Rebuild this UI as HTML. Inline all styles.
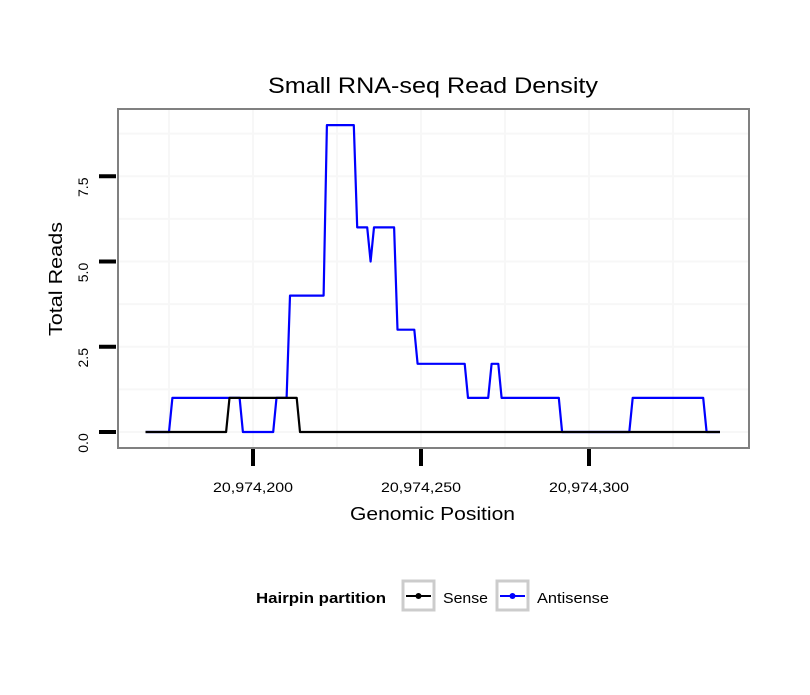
<!DOCTYPE html>
<html><head><meta charset="utf-8"><style>
body{margin:0;background:#fff;}
svg text{font-family:"Liberation Sans",sans-serif;}
</style></head><body>
<svg id="chart" width="810" height="690" xmlns="http://www.w3.org/2000/svg">
<rect x="0" y="0" width="810" height="690" fill="#fff"/>
<text x="268" y="93" font-size="22" textLength="330" lengthAdjust="spacingAndGlyphs" fill="#000">Small RNA-seq Read Density</text>
<g id="grid"></g>
<g id="lines"></g>
<rect x="118" y="109" width="631" height="339" fill="none" stroke="#808080" stroke-width="2"/>
<g id="axes"></g>
<text x="350" y="520" font-size="18" textLength="165" lengthAdjust="spacingAndGlyphs">Genomic Position</text>
<text transform="translate(62,336) rotate(-90)" font-size="18" textLength="114" lengthAdjust="spacingAndGlyphs">Total Reads</text>
<g>
<text x="256" y="603" font-size="15" font-weight="bold" textLength="130" lengthAdjust="spacingAndGlyphs">Hairpin partition</text>
<g>
<rect x="403" y="581" width="31" height="29" fill="#fff" stroke="#ccc" stroke-width="3"/>
<line x1="406" y1="596" x2="431" y2="596" stroke="#000" stroke-width="2"/>
<circle cx="418.5" cy="596" r="3" fill="#000"/>
<text x="443" y="603" font-size="15" textLength="45" lengthAdjust="spacingAndGlyphs">Sense</text>
</g>
<g>
<rect x="497" y="581" width="31" height="29" fill="#fff" stroke="#ccc" stroke-width="3"/>
<line x1="500" y1="596" x2="525" y2="596" stroke="#00f" stroke-width="2"/>
<circle cx="512.5" cy="596" r="3" fill="#00f"/>
<text x="537" y="603" font-size="15" textLength="72" lengthAdjust="spacingAndGlyphs">Antisense</text>
</g>
</g>
</svg>
<script>
const startPosition = 20974168;
const senseValues = [
0,0,0,0,0,0,0,0,0,0,0,0,0,0,0,0,0,0,0,0,0,0,0,0,0,
1,1,1,1,1,1,1,1,1,1,1,1,1,1,1,1,1,1,1,1,1,
0,0,0,0,0,0,0,0,0,0,0,0,0,0,0,0,0,0,0,0,0,0,0,0,0,0,0,0,0,0,0,0,0,0,0,0,0,0,0,0,0,0,0,0,0,0,0,0,0,0,
0,0,0,0,0,0,0,0,0,0,0,0,0,0,0,0,0,0,0,0,0,0,0,0,0,0,0,0,0,0,0,0,0,0,0,0,0,0,0,0,0,0,0,0,0,0,0,0,0,0,
0,0,0,0,0,0,0,0,0,0,0,0,0,0,0,0,0,0,0,0,0,0,0,0,0,0];
const antisenseValues = [
0,0,0,0,0,0,0,0,
1,1,1,1,1,1,1,1,1,1,1,1,1,1,1,1,1,1,1,1,1,
0,0,0,0,0,0,0,0,0,0,
1,1,1,1,
4,4,4,4,4,4,4,4,4,4,4,
9,9,9,9,9,9,9,9,9,
6,6,6,6,5,6,6,6,6,6,6,6,
3,3,3,3,3,3,
2,2,2,2,2,2,2,2,2,2,2,2,2,2,2,
1,1,1,1,1,1,1,
2,2,2,
1,1,1,1,1,1,1,1,1,1,1,1,1,1,1,1,1,1,
0,0,0,0,0,0,0,0,0,0,0,0,0,0,0,0,0,0,0,0,0,
1,1,1,1,1,1,1,1,1,1,1,1,1,1,1,1,1,1,1,1,1,1,
0,0,0,0,0];
const yTicks = [0, 2.5, 5, 7.5];
const yTickLabels = ["0.0", "2.5", "5.0", "7.5"];
const xTicks = [20974200, 20974250, 20974300];
const xTickLabels = ["20,974,200", "20,974,250", "20,974,300"];

const NS = "http://www.w3.org/2000/svg";
function xs(p){ return 253 + (p - 20974200) * 3.36; }
function ys(v){ return 432 - v * 34.1; }
function mk(tag, attrs, parent){
  const e = document.createElementNS(NS, tag);
  for (const k in attrs) e.setAttribute(k, attrs[k]);
  parent.appendChild(e); return e;
}
const grid = document.getElementById('grid');
const lines = document.getElementById('lines');
const axes = document.getElementById('axes');
for (let v = -1.25; v <= 10; v += 1.25) {
  const y = ys(v); if (y < 110 || y > 447) continue;
  const g = mk('line', {x1:119, x2:748, y1:y, y2:y, stroke:'#f7f7f7', 'stroke-width':2}, grid);
  
  
}
for (let p = 20974150; p <= 20974350; p += 25) {
  const x = xs(p); if (x < 119 || x > 748) continue;
  const g = mk('line', {x1:x, x2:x, y1:110, y2:447, stroke:'#f7f7f7', 'stroke-width':2}, grid);
  
  
}
function series(vals, color, name){
  const pts = vals.map((v,i) => xs(startPosition + i).toFixed(1) + ',' + ys(v).toFixed(1)).join(' ');
  const pl = mk('polyline', {points:pts, fill:'none', stroke:color, 'stroke-width':2.2, 'stroke-linejoin':'round'}, lines);
  
  
}
series(antisenseValues, '#0000ff', 'antisense-line');
series(senseValues, '#000000', 'sense-line');
yTicks.forEach((v,i) => {
  const y = ys(v);
  const t = mk('line', {x1:99, x2:116, y1:y, y2:y, stroke:'#000', 'stroke-width':4}, axes);
  
  
  const l = mk('text', {transform:`translate(88,${y+11}) rotate(-90)`, 'font-size':14, 'text-anchor':'middle', fill:'#000'}, axes);
  l.textContent = yTickLabels[i];
  
  
});
xTicks.forEach((p,i) => {
  const x = xs(p);
  const t = mk('line', {x1:x, x2:x, y1:449, y2:466, stroke:'#000', 'stroke-width':4}, axes);
  
  
  const l = mk('text', {x:x-40, y:492, 'font-size':14, textLength:80, lengthAdjust:'spacingAndGlyphs', fill:'#000'}, axes);
  l.textContent = xTickLabels[i];
  
  
});
</script>
</body></html>
